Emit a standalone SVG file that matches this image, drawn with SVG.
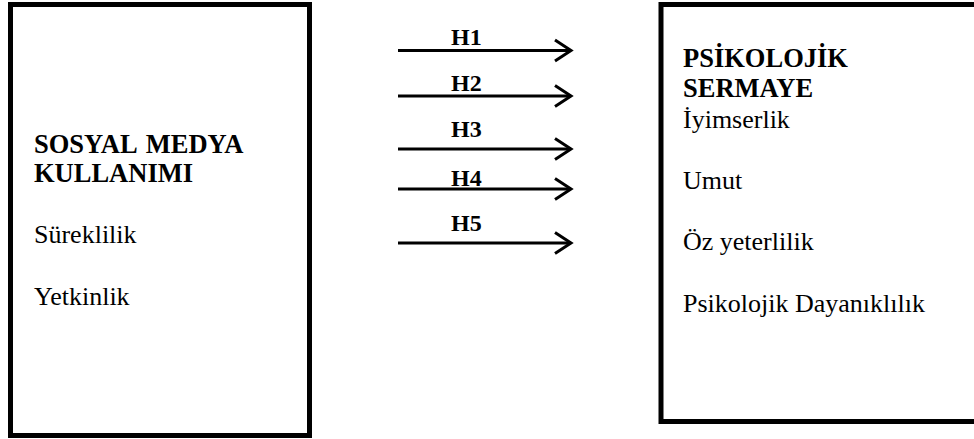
<svg xmlns="http://www.w3.org/2000/svg" width="974" height="439" viewBox="0 0 974 439">
  <style>
    .box { fill: #ffffff; stroke: #000000; stroke-width: 5; }
    .t { font-family: "Liberation Serif", "Times New Roman", serif; fill: #000000; }
    .b { font-weight: bold; font-size: 26.5px; }
    .n { font-size: 26px; }
    .h { font-weight: bold; font-size: 24px; }
    .conn line { stroke: #000000; stroke-width: 3; }
    .conn polyline { fill: none; stroke: #000000; stroke-width: 3; }
  </style>
  <rect width="974" height="439" fill="#ffffff"/>

  <g id="sosyal-medya">
    <rect class="box" x="10.5" y="4.5" width="299" height="431"/>
    <text class="t b" x="34" y="153" word-spacing="3">SOSYAL MEDYA</text>
    <text class="t b" x="34" y="182">KULLANIMI</text>
    <text class="t n" x="34" y="243">Süreklilik</text>
    <text class="t n" x="34" y="305">Yetkinlik</text>
  </g>

  <g id="psikolojik-sermaye">
    <rect class="box" x="661" y="4.5" width="400" height="417"/>
    <text class="t b" x="683" y="67">PSİKOLOJİK</text>
    <text class="t b" x="683" y="97">SERMAYE</text>
    <text class="t n" x="683" y="128">İyimserlik</text>
    <text class="t n" x="683" y="189">Umut</text>
    <text class="t n" x="683" y="250">Öz yeterlilik</text>
    <text class="t n" x="683" y="312">Psikolojik Dayanıklılık</text>
  </g>

  <g id="connectors" class="conn">
    <g id="h1">
      <line x1="398" y1="50.5" x2="571" y2="50.5"/>
      <polyline points="555,40 571,50.5 555,61"/>
      <text class="t h" x="451" y="45">H1</text>
    </g>
    <g id="h2">
      <line x1="398" y1="96" x2="571" y2="96"/>
      <polyline points="555,85.5 571,96 555,106.5"/>
      <text class="t h" x="451" y="91">H2</text>
    </g>
    <g id="h3">
      <line x1="398" y1="149" x2="571" y2="149"/>
      <polyline points="555,138.5 571,149 555,159.5"/>
      <text class="t h" x="451" y="137">H3</text>
    </g>
    <g id="h4">
      <line x1="398" y1="189" x2="571" y2="189"/>
      <polyline points="555,178.5 571,189 555,199.5"/>
      <text class="t h" x="451" y="186">H4</text>
    </g>
    <g id="h5">
      <line x1="398" y1="243" x2="571" y2="243"/>
      <polyline points="555,232.5 571,243 555,253.5"/>
      <text class="t h" x="451" y="231">H5</text>
    </g>
  </g>
</svg>
